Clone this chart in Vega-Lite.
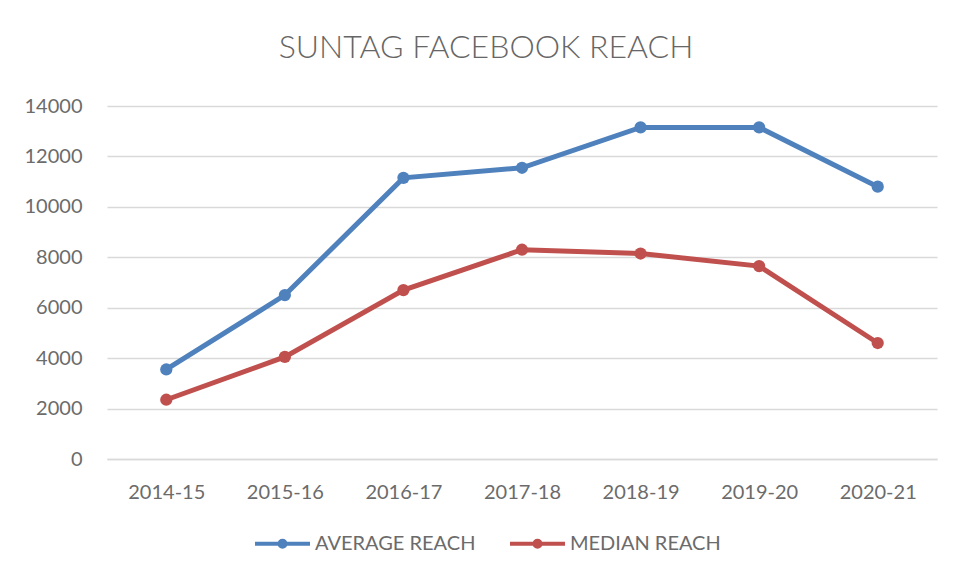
{
  "$schema": "https://vega.github.io/schema/vega-lite/v6.json",
  "width": 830,
  "height": 353,
  "autosize": {"type": "none"},
  "padding": {"left": 107, "top": 106, "right": 16, "bottom": 121},
  "background": "white",
  "title": {
    "text": "SUNTAG FACEBOOK REACH",
    "anchor": "middle",
    "dx": -36,
    "offset": 31,
    "fontSize": 32,
    "font": "Lato",
    "fontWeight": 300,
    "color": "#666666"
  },
  "config": {
    "view": {"stroke": null},
    "font": "Lato"
  },
  "data": {
    "values": [
      {"year": "2014-15", "series": "AVERAGE REACH", "reach": 3550},
      {"year": "2015-16", "series": "AVERAGE REACH", "reach": 6500},
      {"year": "2016-17", "series": "AVERAGE REACH", "reach": 11150},
      {"year": "2017-18", "series": "AVERAGE REACH", "reach": 11550},
      {"year": "2018-19", "series": "AVERAGE REACH", "reach": 13150},
      {"year": "2019-20", "series": "AVERAGE REACH", "reach": 13150},
      {"year": "2020-21", "series": "AVERAGE REACH", "reach": 10800},
      {"year": "2014-15", "series": "MEDIAN REACH", "reach": 2350},
      {"year": "2015-16", "series": "MEDIAN REACH", "reach": 4050},
      {"year": "2016-17", "series": "MEDIAN REACH", "reach": 6700},
      {"year": "2017-18", "series": "MEDIAN REACH", "reach": 8300},
      {"year": "2018-19", "series": "MEDIAN REACH", "reach": 8150},
      {"year": "2019-20", "series": "MEDIAN REACH", "reach": 7650},
      {"year": "2020-21", "series": "MEDIAN REACH", "reach": 4600}
    ]
  },
  "encoding": {
    "x": {
      "field": "year",
      "type": "ordinal",
      "sort": null,
      "title": null,
      "axis": {
        "labelAngle": 0,
        "labelFontSize": 20,
        "labelColor": "#6b6b6b",
        "labelPadding": 23,
        "ticks": false,
        "domainColor": "#d9d9d9",
        "domainWidth": 1.5,
        "grid": false
      }
    },
    "y": {
      "field": "reach",
      "type": "quantitative",
      "title": null,
      "scale": {"domain": [0, 14000], "nice": false},
      "axis": {
        "values": [0, 2000, 4000, 6000, 8000, 10000, 12000, 14000],
        "format": "d",
        "labelFontSize": 20,
        "labelColor": "#6b6b6b",
        "labelPadding": 25,
        "ticks": false,
        "domain": false,
        "gridColor": "#d9d9d9",
        "gridWidth": 1.5
      }
    },
    "color": {
      "field": "series",
      "type": "nominal",
      "scale": {"domain": ["AVERAGE REACH", "MEDIAN REACH"], "range": ["#4f81bd", "#c0504d"]},
      "legend": {
        "title": null,
        "orient": "none",
        "direction": "horizontal",
        "legendX": 146,
        "legendY": 408,
        "symbolType": "M-1,0H1M0.11,0A0.11,0.11 0 1,1 -0.11,0A0.11,0.11 0 1,1 0.11,0",
        "symbolSize": 3025,
        "symbolStrokeWidth": 4,
        "labelFontSize": 20,
        "labelLimit": 400,
        "labelColor": "#6b6b6b",
        "labelOffset": 3,
        "columnPadding": 26
      }
    }
  },
  "layer": [
    {"mark": {"type": "line", "strokeWidth": 5}},
    {"mark": {"type": "point", "filled": true, "size": 150, "opacity": 1}}
  ]
}
